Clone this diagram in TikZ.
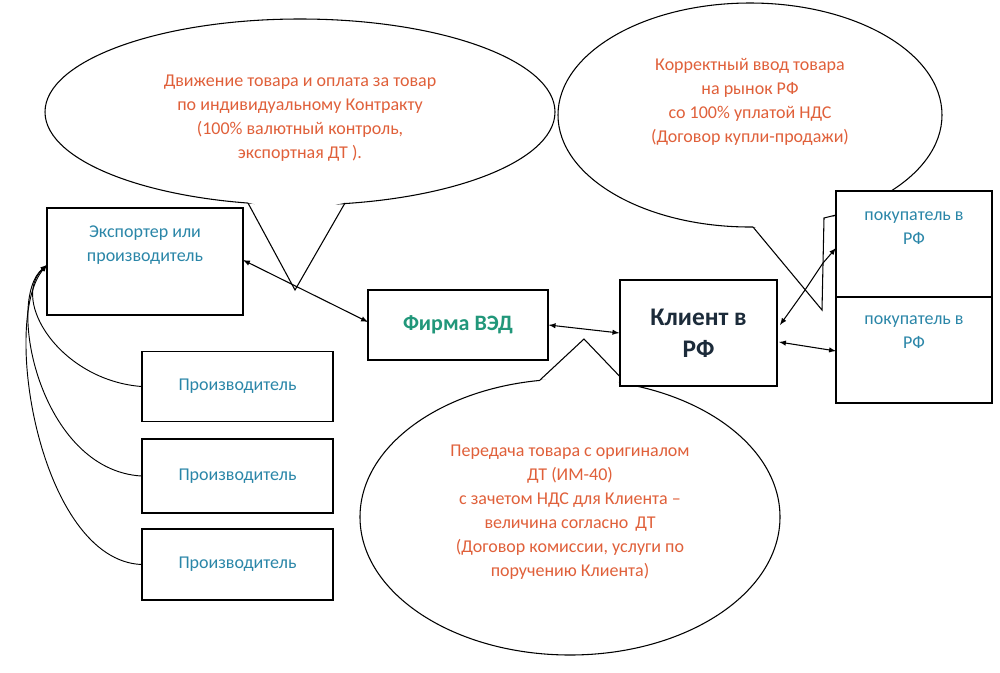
\documentclass[tikz,border=0pt]{standalone}
\usepackage{fontspec}
\setmainfont{Carlito}
\begin{document}
\begin{tikzpicture}[x=0.75pt,y=-0.75pt,
  box/.style={draw,line width=0.9pt,fill=white},
  lbl/.style={align=center,text=blu,font=\fontsize{13.5}{18}\selectfont},
  call/.style={align=center,text=org,font=\fontsize{13.5}{18}\selectfont},
  arr/.style={<->,>=latex,line width=0.8pt},
  cur/.style={->,>=latex,line width=0.7pt},
  ol/.style={line width=0.8pt}]
\definecolor{blu}{HTML}{2A86A8}
\definecolor{org}{HTML}{E0603A}
\definecolor{grn}{HTML}{21977A}
\definecolor{nav}{HTML}{1C2B3A}
\useasboundingbox (0,0) rectangle (1000,672);
% callout 1
\fill[white] (300,112) ellipse [x radius=255,y radius=93];
\fill[white] (248,190) -- (248,203) -- (295,290) -- (345,203) -- (345,190) -- cycle;
\begin{scope}[even odd rule]
\clip (0,0) rectangle (1000,672) (248,203) -- (248,180) -- (345,180) -- (345,203) -- (296,212) -- cycle;
\draw[ol] (300,112) ellipse [x radius=255,y radius=93];
\end{scope}
\draw[ol] (248,203) -- (295,290) -- (345,203);
\node[call] (c1) at (300,118) {Движение товара и оплата за товар\\по индивидуальному Контракту\\(100\% валютный контроль,\\экспортная ДТ ).};
% callout 2
\fill[white] (750,115) ellipse [x radius=192,y radius=112];
\fill[white] (753,200) -- (753,227) -- (822,310) -- (824,218) -- (836,215) -- (836,200) -- cycle;
\begin{scope}[even odd rule]
\clip (0,0) rectangle (1000,672) (753,227) -- (753,190) -- (836,190) -- (836,215) -- (795,234) -- cycle;
\draw[ol] (750,115) ellipse [x radius=192,y radius=112];
\end{scope}
\draw[ol] (753,227) -- (822,310) -- (824,218) -- (836,215);
\node[call] (c2) at (750,102) {Корректный ввод товара\\на рынок РФ\\со 100\% уплатой НДС\\(Договор купли-продажи)};
% callout 3
\fill[white] (570,517) ellipse [x radius=210,y radius=138];
\fill[white] (540,395) -- (540,380) -- (584,339) -- (627,384) -- (627,395) -- cycle;
\begin{scope}[even odd rule]
\clip (0,0) rectangle (1000,672) (540,380) -- (540,420) -- (627,420) -- (627,384) -- (584,374) -- cycle;
\draw[ol] (570,517) ellipse [x radius=210,y radius=138];
\end{scope}
\draw[ol] (540,380) -- (584,339) -- (627,384);
\node[call] (c3) at (570,512) {Передача товара с оригиналом\\ДТ (ИМ-40)\\с зачетом НДС для Клиента –\\величина согласно\, ДТ\\(Договор комиссии, услуги по\\поручению Клиента)};
% boxes
\draw[box] (47,208) rectangle (243,315); \coordinate (exL) at (47,265);
\node[lbl] (ex) at (145,245) {Экспортер или\\производитель};
\node[box,minimum width=143.25pt,minimum height=52pt,lbl] (p1) at (237.5,386.5) {Производитель};
\node[box,minimum width=143.25pt,minimum height=55.5pt,lbl] (p2) at (237.5,476) {Производитель};
\node[box,minimum width=143.25pt,minimum height=53.25pt,lbl] (p3) at (237.5,564.5) {Производитель};
\node[box,minimum width=135pt,minimum height=52.5pt,text=grn,font=\fontsize{16.5}{19}\bfseries] (f) at (458,325) {Фирма ВЭД};
\node[box,minimum width=117.75pt,minimum height=79.5pt,align=center,text=nav,font=\fontsize{19}{24}\bfseries] (k) at (698.5,333) {Клиент в\\РФ};
\draw[box] (836,191) rectangle (992,297);
\draw[box] (836,297) rectangle (992,403);
\node[lbl] (b1) at (914,228) {покупатель в\\РФ};
\node[lbl] (b2) at (914,332) {покупатель в\\РФ};
\coordinate (b1L) at (836,248); \coordinate (b2L) at (836,351);
% connectors
\draw[arr] (243,260) -- (368,322);
\draw[arr] (f.east) -- (k.west);
\draw[arr] (779,342) -- (b2L);
\draw[arr] (780,325) -- (805,290) -- (823,263) -- (b1L);
\draw[cur] (p1.west) .. controls (60,380) and (10,300) .. (exL);
\draw[cur] (p2.west) .. controls (40,470) and (5,300) .. (exL);
\draw[cur] (p3.west) .. controls (40,560) and (0,320) .. (exL);
\end{tikzpicture}
\end{document}
